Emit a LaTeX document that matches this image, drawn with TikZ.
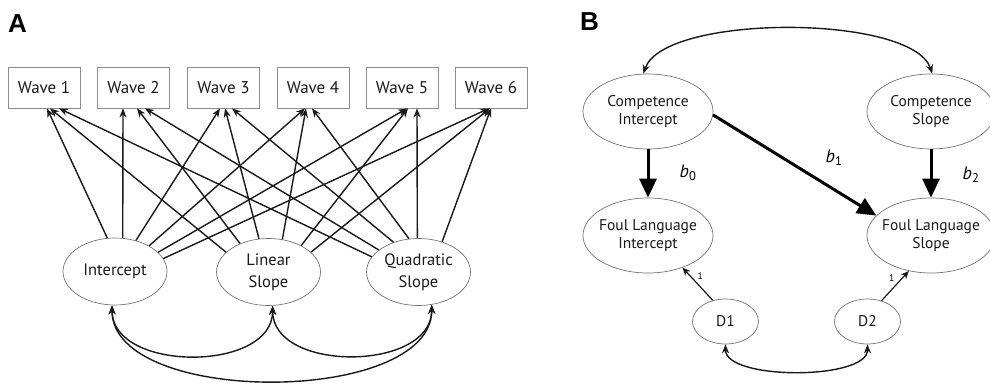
\documentclass[tikz,border=0pt]{standalone}
\usepackage{fontspec}
\setmainfont{PT Sans}
\newfontfamily\panelfont{Liberation Sans}
\usetikzlibrary{arrows.meta,calc,shapes.geometric}
\begin{document}
\begin{tikzpicture}[x=1pt,y=-1pt,
  wavebox/.style={draw=black!45,line width=0.8pt,minimum width=72pt,minimum height=41pt,inner sep=0pt,font=\fontsize{17}{18}\selectfont,text=black!90},
  lat/.style={ellipse,draw=black!55,line width=0.7pt,inner sep=0pt},
  atext/.style={align=center,font=\fontsize{16.5}{22}\selectfont,text=black!90},
  btext/.style={align=center,font=\fontsize{15.5}{18}\selectfont,text=black!90},
  loadarrow/.style={draw=black!90,line width=1.4pt,-{Stealth[length=9pt,width=7pt]}},
  cov/.style={draw=black!90,line width=1.4pt,{Stealth[length=9pt,width=7pt]}-{Stealth[length=9pt,width=7pt]}},
  bigarrow/.style={draw=black,line width=3pt,-{Triangle[length=19pt,width=17pt]}},
  panel/.style={font=\panelfont\bfseries\fontsize{26}{26}\selectfont,inner sep=0pt,anchor=north west},
  blab/.style={font=\fontsize{18}{19}\selectfont\itshape,inner sep=0pt},
  onelab/.style={font=\fontsize{9.5}{10}\selectfont,inner sep=1pt}
]
\useasboundingbox (0,0) rectangle (990,387);
% ---------- Panel A ----------
\node[panel] (pa) at (8,14) {A};
\node[wavebox] (w1) at (44,87.5) {Wave 1};
\node[wavebox] (w2) at (133.5,87.5) {Wave 2};
\node[wavebox] (w3) at (223.5,87.5) {Wave 3};
\node[wavebox] (w4) at (313,87.5) {Wave 4};
\node[wavebox] (w5) at (402,87.5) {Wave 5};
\node[wavebox] (w6) at (491,87.5) {Wave 6};
\node[lat,minimum width=104pt,minimum height=67pt,label={[atext]center:Intercept}] (ic) at (115,271.5) {};
\node[lat,minimum width=104pt,minimum height=67pt,label={[atext]center:Linear\\Slope}] (ls) at (268.5,272) {};
\node[lat,minimum width=104pt,minimum height=67pt,label={[atext]center:Quadratic\\Slope}] (qs) at (418.5,272) {};
% intercept loadings
\draw[loadarrow] (ic.103.4) -- ($(w1.south)+(3,0)$);
\draw[loadarrow] (ic.77) -- ($(w2.south)+(-10.5,0)$);
\draw[loadarrow] (ic.56.7) -- ($(w3.south)+(-3.5,0)$);
\draw[loadarrow] (ic.37.7) -- ($(w4.south)+(-8,0)$);
\draw[loadarrow] (ic.24.9) -- ($(w5.south)+(5,0)$);
\draw[loadarrow] (ic.15.7) -- ($(w6.south)+(-2,0)$);
% linear loadings
\draw[loadarrow] (ls.155.3) -- ($(w1.south)+(6,0)$);
\draw[loadarrow] (ls.135.5) -- ($(w2.south)+(3.5,0)$);
\draw[loadarrow] (ls.106.7) -- ($(w3.south)+(1.5,0)$);
\draw[loadarrow] (ls.67.5) -- ($(w4.south)+(-7,0)$);
\draw[loadarrow] (ls.39.9) -- ($(w5.south)+(6,0)$);
\draw[loadarrow] (ls.25.3) -- ($(w6.south)+(-1,0)$);
% quadratic loadings
\draw[loadarrow] (qs.162.8) -- ($(w1.south)+(15,0)$);
\draw[loadarrow] (qs.151.5) -- ($(w2.south)+(11.5,0)$);
\draw[loadarrow] (qs.130.4) -- ($(w3.south)+(8.5,0)$);
\draw[loadarrow] (qs.106.7) -- ($(w4.south)+(-1,0)$);
\draw[loadarrow] (qs.92.5) -- ($(w5.south)+(15,0)$);
\draw[loadarrow] (qs.52.6) -- ($(w6.south)+(0,0)$);
% covariances
\draw[cov] (ic.265) .. controls +(0,67) and +(0,67) .. (ls.277);
\draw[cov] (ls.277) .. controls +(0,67) and +(0,67) .. (qs.292.5);
\draw[cov] (ic.265) .. controls +(0,101) and +(0,101) .. (qs.292.5);
% ---------- Panel B ----------
\node[panel] (pb) at (580,12) {B};
\node[lat,minimum width=130pt,minimum height=75pt,label={[btext]center:Competence\\Intercept}] (ci) at (648,111.5) {};
\node[lat,minimum width=128pt,minimum height=75pt,label={[btext]center:Competence\\Slope}] (cs) at (931,111.5) {};
\node[lat,minimum width=130pt,minimum height=75pt,label={[btext]center:Foul Language\\Intercept}] (fi) at (648,235.5) {};
\node[lat,minimum width=128pt,minimum height=75pt,label={[btext]center:Foul Language\\Slope}] (fs) at (931,235.5) {};
\node[lat,minimum width=66pt,minimum height=45pt,label={[btext]center:D1}] (d1) at (725.5,321.5) {};
\node[lat,minimum width=66pt,minimum height=45pt,label={[btext]center:D2}] (d2) at (867.5,321.5) {};
\draw[cov] (ci.97.6) .. controls +(20,-60) and +(-20,-60) .. (cs.88.5);
\draw[bigarrow] (ci.south) -- (fi.north);
\draw[bigarrow] (cs.south) -- (fs.north);
\draw[bigarrow] (ci.-3) -- (fs.160);
\draw[loadarrow,line width=1.2pt,-{Stealth[length=8pt,width=7pt]}] (d1.121) -- (fi.-43) node[pos=0.75,right=6pt,onelab] (l1) {1};
\draw[loadarrow,line width=1.2pt,-{Stealth[length=8pt,width=7pt]}] (d2.56.6) -- (fs.238) node[pos=0.75,left=6pt,onelab] (l2) {1};
\draw[cov] (d1.south) .. controls +(0,36) and +(0,36) .. (d2.south);
\node[blab] (b0) at (688,173) {b\textsubscript{\upshape 0}};
\node[blab] (b1) at (834,158) {b\textsubscript{\upshape 1}};
\node[blab] (b2) at (971,175) {b\textsubscript{\upshape 2}};
\end{tikzpicture}
\end{document}
